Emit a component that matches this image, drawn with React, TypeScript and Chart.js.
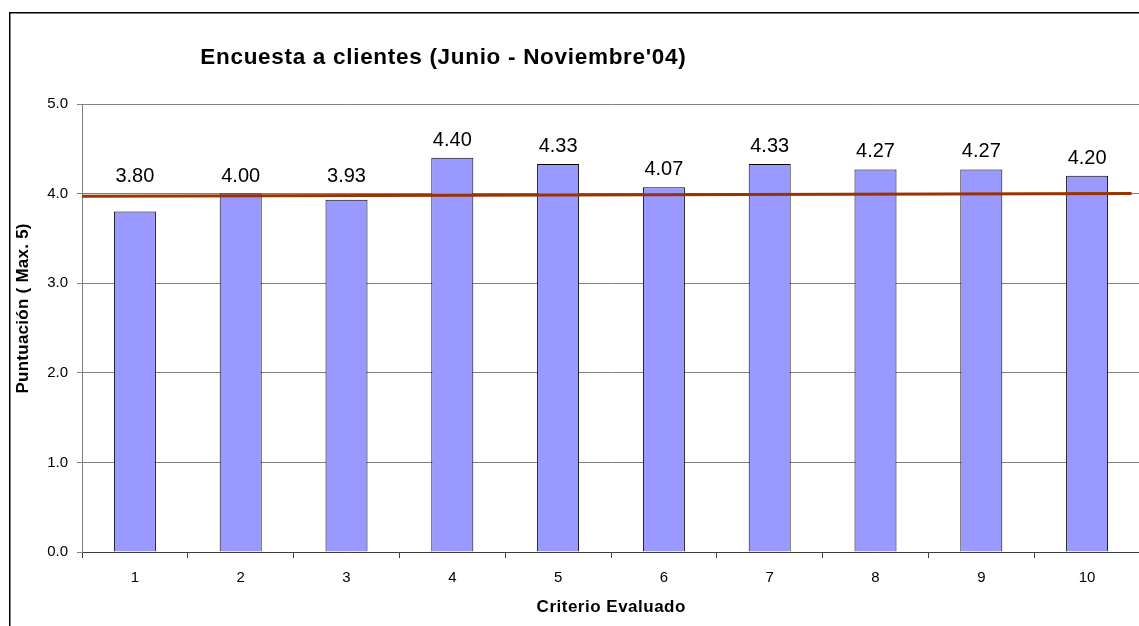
import React, { useEffect, useRef } from "react";
import { Chart, registerables } from "chart.js";

Chart.register(...registerables);

const categories = ["1", "2", "3", "4", "5", "6", "7", "8", "9", "10"];
const scores = [3.8, 4.0, 3.93, 4.4, 4.33, 4.07, 4.33, 4.27, 4.27, 4.2];
const trendX = [0.5, 10.42];
const trendY = [3.97, 4.0];
const yMin = 0;
const yMax = 5;
const yStep = 1;
const chartTitle = "Encuesta a clientes (Junio - Noviembre'04)";
const xTitle = "Criterio Evaluado";
const yTitle = "Puntuación ( Max. 5)";

const FONT = "'Liberation Sans', Arial, Helvetica, sans-serif";
const CW = 1160;
const CH = 640;

function spacedText(ctx: any, text: string, x: number, y: number, spacing: number) {
  try {
    ctx.letterSpacing = spacing + "px";
  } catch (e) {}
  ctx.fillText(text, x + spacing / 2, y);
  try {
    ctx.letterSpacing = "0px";
  } catch (e) {}
}

const decorPlugin = {
  id: "decor",
  beforeDraw(chart: any) {
    const ctx = chart.ctx;
    ctx.save();
    ctx.fillStyle = "#ffffff";
    ctx.fillRect(0, 0, chart.width, chart.height);
    ctx.restore();
  },
  afterDatasetsDraw(chart: any) {
    const ctx = chart.ctx;
    const barMeta = chart.getDatasetMeta(0);
    const lineMeta = chart.getDatasetMeta(1);
    const p0 = lineMeta.data[0];
    const p1 = lineMeta.data[lineMeta.data.length - 1];
    ctx.save();
    ctx.font = `20px ${FONT}`;
    ctx.fillStyle = "#000";
    ctx.textAlign = "center";
    ctx.textBaseline = "alphabetic";
    barMeta.data.forEach((bar: any, i: number) => {
      const t = (bar.x - p0.x) / (p1.x - p0.x);
      const lineY = p0.y + t * (p1.y - p0.y);
      const top = Math.min(bar.y, lineY - 2);
      ctx.fillText(scores[i].toFixed(2), bar.x, top - 12);
    });
    ctx.restore();
  },
  afterDraw(chart: any) {
    const ctx = chart.ctx;
    const area = chart.chartArea;
    ctx.save();
    ctx.strokeStyle = "#000";
    ctx.lineWidth = 1.5;
    ctx.strokeRect(9.75, 12.75, 2000, 2000);
    ctx.fillStyle = "#000";
    ctx.textAlign = "center";
    ctx.textBaseline = "alphabetic";
    // main title
    ctx.font = `bold 22.5px ${FONT}`;
    spacedText(ctx, chartTitle, 443, 63.5, 0.7);
    // x axis title
    ctx.font = `bold 17px ${FONT}`;
    spacedText(ctx, xTitle, (area.left + area.right) / 2, 612, 0.5);
    // y axis title
    ctx.translate(27.5, 308.5);
    ctx.rotate(-Math.PI / 2);
    ctx.font = `bold 17px ${FONT}`;
    spacedText(ctx, yTitle, 0, 0, 0.25);
    ctx.restore();
  },
};

export default function App() {
  const ref = useRef<HTMLCanvasElement | null>(null);

  useEffect(() => {
    if (!ref.current) return;
    const chart = new Chart(ref.current, {
      type: "bar",
      data: {
        labels: categories,
        datasets: [
          {
            type: "bar",
            data: scores,
            xAxisID: "x",
            yAxisID: "y",
            backgroundColor: "#9999FF",
            borderColor: "#000000",
            borderWidth: 1,
            categoryPercentage: 1,
            barPercentage: 0.397,
            grouped: false,
            order: 1,
          } as any,
          {
            type: "line",
            data: trendX.map((x, i) => ({ x, y: trendY[i] })),
            xAxisID: "xt",
            yAxisID: "y",
            borderColor: "#993300",
            borderWidth: 3,
            pointRadius: 0,
            fill: false,
            order: 0,
          } as any,
        ],
      },
      options: {
        responsive: false,
        animation: false,
        devicePixelRatio: 1,
        layout: { padding: { left: 0, top: 104, right: CW - 1140, bottom: CH - 626 } },
        plugins: {
          legend: { display: false },
          tooltip: { enabled: false },
          title: { display: false },
        },
        scales: {
          x: {
            type: "category",
            offset: true,
            grid: {
              display: true,
              drawOnChartArea: false,
              drawTicks: true,
              tickLength: 6,
              color: "#404040",
              offset: true,
            },
            border: { color: "#404040", width: 1 },
            ticks: {
              color: "#000",
              padding: 11,
              font: { family: FONT, size: 15 },
              maxRotation: 0,
            },
            afterFit(scale: any) {
              scale.height = 74;
            },
          },
          xt: {
            type: "linear",
            axis: "x",
            position: "bottom",
            display: false,
            offset: false,
            grid: { offset: false },
            min: 0.5,
            max: 10.5,
          },
          y: {
            min: yMin,
            max: yMax,
            ticks: {
              stepSize: yStep,
              color: "#000",
              padding: 9,
              font: { family: FONT, size: 15 },
              callback: (v: any) => Number(v).toFixed(1),
            },
            grid: { color: "#808080", tickLength: 5, lineWidth: 1 },
            border: { color: "#808080", width: 1 },
            afterFit(scale: any) {
              scale.width = 82;
            },
          },
        },
      } as any,
      plugins: [decorPlugin],
    });
    return () => chart.destroy();
  }, []);

  return (
    <div
      style={{
        position: "fixed",
        left: 0,
        top: 0,
        width: "100vw",
        height: "100vh",
        overflow: "hidden",
        background: "#fff",
      }}
    >
      <canvas
        ref={ref}
        width={CW}
        height={CH}
        style={{ position: "absolute", left: 0, top: 0, display: "block", width: CW, height: CH }}
      />
    </div>
  );
}
